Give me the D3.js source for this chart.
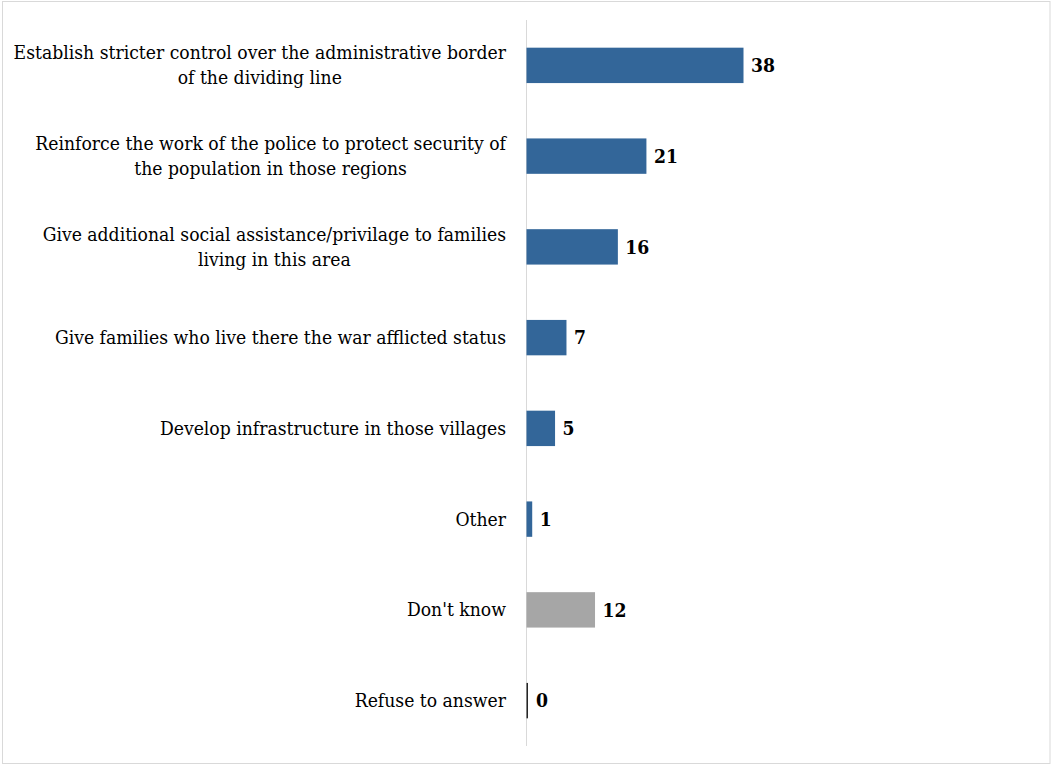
<!DOCTYPE html>
<html>
<head>
<meta charset="utf-8">
<script src="https://cdn.jsdelivr.net/npm/d3@7"></script>
<style>
  html, body { margin: 0; padding: 0; background: #fff; }
  svg { display: block; }
</style>
</head>
<body>
<svg id="chart" width="1051" height="765"></svg>
<script>
const categories = [
  "Establish stricter control over the administrative border\nof the dividing line",
  "Reinforce the work of the police to protect security of\nthe population in those regions",
  "Give additional social assistance/privilage to families\nliving in this area",
  "Give families who live there the war afflicted status",
  "Develop infrastructure in those villages",
  "Other",
  "Don't know",
  "Refuse to answer"
];
const values = [38, 21, 16, 7, 5, 1, 12, 0];
const barColors = ["#336699", "#336699", "#336699", "#336699", "#336699", "#336699", "#a6a6a6", "#262626"];

const svg = d3.select("#chart");
const W = 1051, H = 765;

svg.append("rect")
  .attr("x", 2.5).attr("y", 1.5)
  .attr("width", W - 3.5).attr("height", H - 3)
  .attr("fill", "#fff").attr("stroke", "#d9d9d9").attr("stroke-width", 1);

const x0 = 526, plotTop = 20, plotBottom = 746;
const x = d3.scaleLinear().domain([0, 38]).range([x0, 743]);
const y = d3.scaleBand().domain(categories).range([plotTop, plotBottom]).paddingInner(0.61).paddingOuter(0.305);

// axis line
svg.append("line")
  .attr("x1", x0 + 0.5).attr("x2", x0 + 0.5)
  .attr("y1", plotTop).attr("y2", plotBottom)
  .attr("stroke", "#d9d9d9").attr("stroke-width", 1);

const fontFamily = "'DejaVu Serif Condensed', 'DejaVu Serif', 'Liberation Serif', serif";

// pick a font size so the longest label line spans ~493px, as in the reference
const probe = svg.append("text").attr("font-family", fontFamily).attr("font-size", "20px")
  .text("Establish stricter control over the administrative border");
const fs = 20 * 493 / probe.node().getComputedTextLength();
probe.remove();

// bars
svg.selectAll("rect.bar").data(categories).enter().append("rect")
  .attr("class", "bar")
  .attr("x", x0 + 0.5)
  .attr("y", d => y(d))
  .attr("width", (d, i) => values[i] === 0 ? 1.5 : x(values[i]) - x0)
  .attr("height", y.bandwidth())
  .attr("fill", (d, i) => barColors[i]);

// value labels
svg.selectAll("text.val").data(categories).enter().append("text")
  .attr("class", "val")
  .attr("x", (d, i) => x(values[i]) + (values[i] === 0 ? 10 : 8))
  .attr("y", d => y(d) + y.bandwidth() / 2)
  .attr("dy", "0.35em")
  .attr("font-family", fontFamily)
  .attr("font-size", fs + "px")
  .attr("font-weight", "bold")
  .attr("fill", "#000")
  .text((d, i) => values[i]);

// category labels: block right-aligned at x=506, lines centred within block
const labelRight = 506;
const lab = svg.selectAll("text.cat").data(categories).enter().append("text")
  .attr("class", "cat")
  .attr("text-anchor", "middle")
  .attr("font-family", fontFamily)
  .attr("font-size", fs + "px")
  .attr("fill", "#000")
  .attr("y", d => y(d) + y.bandwidth() / 2);

lab.each(function(d) {
  const lines = d.split("\n");
  const t = d3.select(this);
  const lh = 25;
  const spans = lines.map((ln, k) => t.append("tspan")
      .attr("dy", k === 0 ? (-(lines.length - 1) / 2 * lh + 6.5) : lh)
      .text(ln));
  const maxW = d3.max(spans, s => s.node().getComputedTextLength());
  spans.forEach(s => s.attr("x", labelRight - maxW / 2));
});
</script>
</body>
</html>
